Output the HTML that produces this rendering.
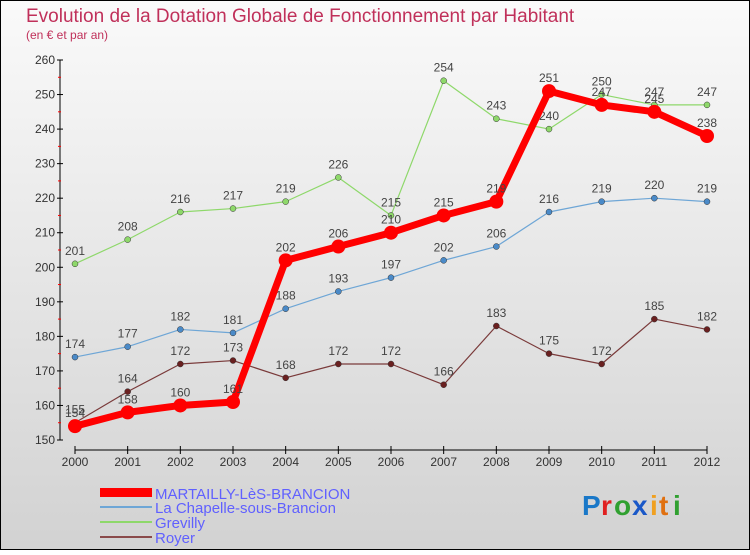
<!DOCTYPE html>
<html><head><meta charset="utf-8"><style>
body{margin:0;width:750px;height:550px;overflow:hidden;font-family:"Liberation Sans",sans-serif}
svg text{font-family:"Liberation Sans",sans-serif}
</style></head><body>
<svg width="750" height="550">
<defs><linearGradient id="bg" x1="0" y1="0" x2="0" y2="1"><stop offset="0" stop-color="#fafafa"/><stop offset="1" stop-color="#d2d2d2"/></linearGradient></defs>
<rect x="0.5" y="0.5" width="749" height="549" fill="url(#bg)" stroke="#000"/>
<text x="26" y="22" font-size="19" fill="#c0305a">Evolution de la Dotation Globale de Fonctionnement par Habitant</text>
<text x="26" y="39" font-size="12" fill="#c0305a">(en € et par an)</text>
<g id="axes"></g><g id="series"></g>
<g>
<rect x="100" y="488" width="52" height="9" fill="#f00"/>
<text x="155" y="499" font-size="15" fill="#6060ff">MARTAILLY-LèS-BRANCION</text>
<line x1="100" y1="507" x2="152" y2="507" stroke="#6ea6d6" stroke-width="2"/>
<text x="155" y="513" font-size="15" fill="#6060ff">La Chapelle-sous-Brancion</text>
<line x1="100" y1="522" x2="152" y2="522" stroke="#8ed86a" stroke-width="2"/>
<text x="155" y="528" font-size="15" fill="#6060ff">Grevilly</text>
<line x1="100" y1="537" x2="152" y2="537" stroke="#8a4a4a" stroke-width="2"/>
<text x="155" y="543" font-size="15" fill="#6060ff">Royer</text>
</g>
<g font-size="28" font-weight="bold">
<text x="582" y="515" fill="#1a78c8">P</text><text x="601" y="515" fill="#e02020">r</text><text x="614" y="515" fill="#30a030">o</text><text x="632" y="515" fill="#1a58c8">x</text><text x="650" y="515" fill="#f0a020">i</text><text x="659" y="515" fill="#e07010">t</text><text x="673" y="515" fill="#30a030">i</text>
</g>
</svg>
<script>
const years=[2000,2001,2002,2003,2004,2005,2006,2007,2008,2009,2010,2011,2012];
const yTicks=[150,160,170,180,190,200,210,220,230,240,250,260];
const martailly=[154,158,160,161,202,206,210,215,219,251,247,245,238];
const chapelle=[174,177,182,181,188,193,197,202,206,216,219,220,219];
const grevilly=[201,208,216,217,219,226,215,254,243,240,250,247,247];
const royer=[155,164,172,173,168,172,172,166,183,175,172,185,182];
const NS="http://www.w3.org/2000/svg";
const X=i=>75+i*(707-75)/12;
const Y=v=>440-(v-150)*(380/110);
function mk(t,a,p){const e=document.createElementNS(NS,t);for(const k in a)e.setAttribute(k,a[k]);p.appendChild(e);return e;}
const ax=document.getElementById('axes');
const yl=mk('line',{x1:60,y1:60,x2:60,y2:440,stroke:'#000'},ax);


const xl=mk('line',{x1:75,y1:450,x2:707,y2:450,stroke:'#000'},ax);


yTicks.forEach(v=>{
 mk('line',{x1:57,y1:Y(v),x2:63,y2:Y(v),stroke:'#000'},ax);
 if(v<260) mk('line',{x1:58,y1:Y(v+5),x2:61,y2:Y(v+5),stroke:'#f00'},ax);
 const t=mk('text',{x:55,y:Y(v)+4,'font-size':12,'text-anchor':'end',fill:'#333'},ax);t.textContent=v;
 
 
});
years.forEach((y,i)=>{
 mk('line',{x1:X(i),y1:446,x2:X(i),y2:454,stroke:'#000'},ax);
 const t=mk('text',{x:X(i),y:466,'font-size':12,'text-anchor':'middle',fill:'#333'},ax);t.textContent=y;
 
 
});
const sg=document.getElementById('series');
function draw(data,name,color,w,r,dot){
 const g=mk('g',{},sg);
 
 
 mk('polyline',{points:data.map((v,i)=>X(i)+','+Y(v)).join(' '),fill:'none',stroke:color,'stroke-width':w,'stroke-linejoin':'round'},g);
 data.forEach((v,i)=>{
  const c=mk('circle',{cx:X(i),cy:Y(v),r:r,fill:dot,stroke:'#333','stroke-width':w>3?0:0.5},g);
  
  
  const t=mk('text',{x:X(i),y:Y(v)-9,'font-size':12,'text-anchor':'middle',fill:'#444'},g);t.textContent=v;
 });
}
draw(grevilly,'grevilly','#8ed86a',1.2,3,'#8ed86a');
draw(chapelle,'chapelle','#6ea6d6',1.2,3,'#4a8ac8');
draw(royer,'royer','#7a3a3a',1.2,3,'#6a2020');
draw(martailly,'martailly','#f00',7,7,'#f00');
</script>
</body></html>
